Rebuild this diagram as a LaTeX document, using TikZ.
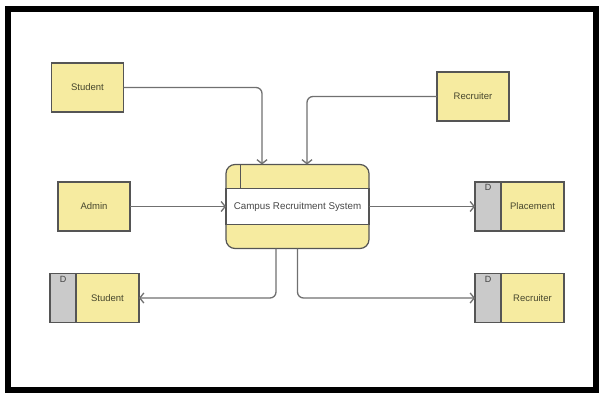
\documentclass[tikz,border=0pt]{standalone}
\usepackage{fontspec}
\setmainfont{Liberation Sans}
\usetikzlibrary{positioning, backgrounds, fit, arrows.meta}
\definecolor{dfdgelb}{RGB}{246,235,160}
\definecolor{dfdgrau}{RGB}{202,202,202}
\definecolor{dfdrand}{RGB}{85,85,85}
\definecolor{dfdlinie}{RGB}{112,112,112}
\definecolor{dfdtext}{RGB}{70,70,45}
\tikzset{instanz/.style={rectangle,draw=dfdrand,fill=dfdgelb,line width=1.2pt,
		minimum width=72pt,minimum height=49pt,inner sep=0,outer sep=0,text=dfdtext,
		font=\fontsize{9.5}{10}\selectfont},
	kennung/.style={rectangle,draw=dfdrand,fill=dfdgrau,line width=1.2pt,
		minimum width=26pt,minimum height=49pt,inner sep=0,outer sep=0,
		label={[anchor=north,inner sep=2.5pt,text=black!75,font=\fontsize{9}{10}\selectfont]north:D}},
	speicher/.style={instanz,minimum width=63pt},
	prozess/.style={rectangle,draw=dfdrand,fill=white,line width=1.2pt,
		minimum width=143pt,minimum height=36pt,inner sep=0,outer sep=0,text=black!72,
		font=\fontsize{9.8}{10}\selectfont},
	prozessrand/.style={rectangle,rounded corners=9pt,draw=dfdrand,fill=dfdgelb,
		line width=1.2pt,inner xsep=0pt,inner ysep=24pt,outer sep=0},
	fluss/.style={draw=dfdlinie,line width=1.3pt,rounded corners=6pt,
		-{Straight Barb[length=4pt,width=10pt]}},
	rahmen/.style={draw=black,line width=6pt} }

\begin{document}
\begin{tikzpicture}[x=1pt,y=-1pt]
	\useasboundingbox (0,0) rectangle (602,394);
	\draw [rahmen] (7.5,8.5) rectangle (596,390);

	% externe Instanzen
	\node (student) [instanz] at (87.5,87.5) {Student};
	\node (recruiter) [instanz] at (473,96.5) {Recruiter};
	\node (admin) [instanz] at (94,206.5) {Admin};

	% Prozess
	\node (crs) [prozess] at (297.5,206.5) {Campus Recruitment System};
	\begin{pgfonlayer}{background}
	\node (crsbox) [prozessrand, fit=(crs)] {};
	\end{pgfonlayer}
	\draw [draw=dfdrand, line width=0.9pt] ([xshift=14pt]crsbox.north west) -- ([xshift=14pt]crs.north west);

	% Datenspeicher
	\node (ps-id) [kennung] at (488,206.5) {};
	\node (ps) [speicher, right=0pt of ps-id] {Placement};
	\node (sts-id) [kennung] at (63,298) {};
	\node (sts) [speicher, right=0pt of sts-id] {Student};
	\node (rs-id) [kennung] at (488,298) {};
	\node (rs) [speicher, right=0pt of rs-id] {Recruiter};

	\draw [fluss] (student.east) -| ([xshift=-35.5pt]crsbox.north);
	\draw [fluss] (recruiter.west) -| ([xshift=9.5pt]crsbox.north);
	\draw [fluss] (admin) -- (crs);
	\draw [fluss] (crs) -- (ps-id);
	\draw [fluss] ([xshift=-21.5pt]crsbox.south) |- (sts.east);
	\draw [fluss] (crsbox.south) |- (rs-id.west);
\end{tikzpicture}
\end{document}
